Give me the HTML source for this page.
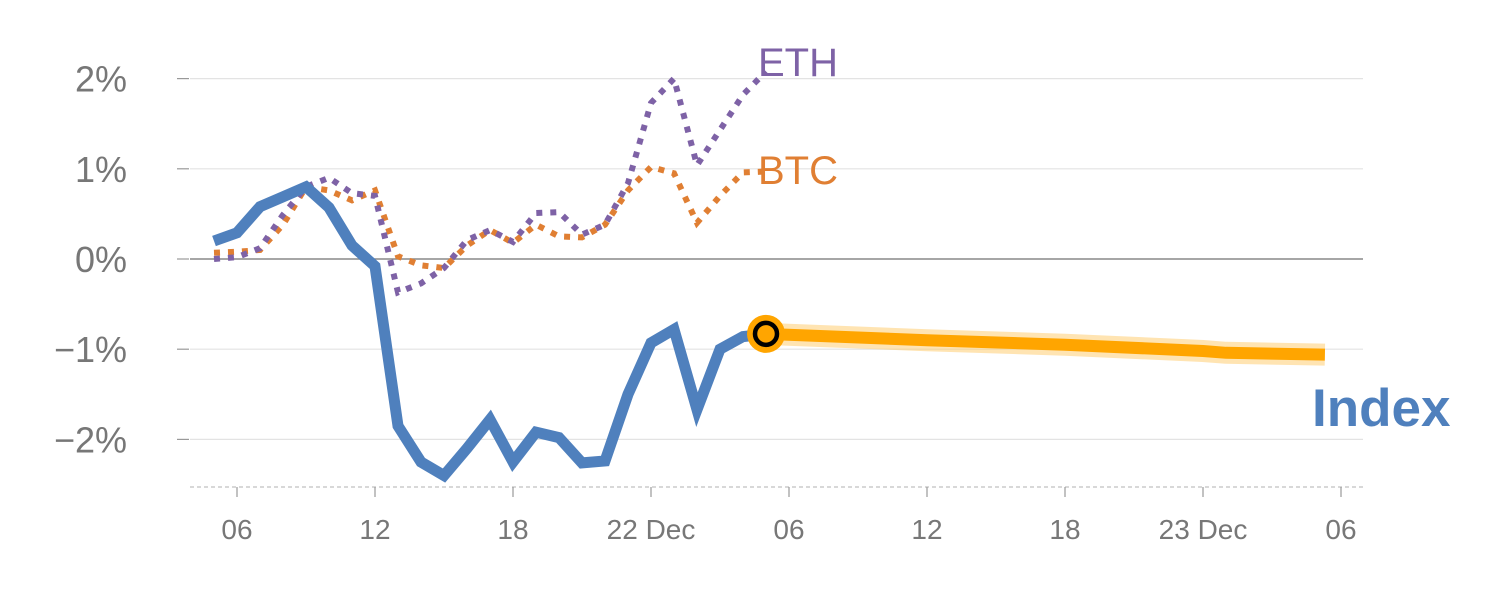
<!DOCTYPE html>
<html><head><meta charset="utf-8"><style>
body{margin:0;background:#fff;}
svg{display:block;font-family:"Liberation Sans",sans-serif;}
</style></head><body>
<svg id="chart" width="1500" height="600"></svg>
<script>
const hours = [-1,0,1,2,3,4,5,6,7,8,9,10,11,12,13,14,15,16,17,18,19,20,21,22,23];
const indexVals = [0.2,0.29,0.58,0.69,0.8,0.57,0.15,-0.08,-1.85,-2.25,-2.4,-2.1,-1.78,-2.25,-1.92,-1.98,-2.26,-2.24,-1.5,-0.93,-0.78,-1.67,-1.0,-0.86,-0.83];
const ethVals = [0.0,0.02,0.12,0.49,0.8,0.9,0.73,0.7,-0.37,-0.27,-0.1,0.21,0.32,0.19,0.51,0.52,0.27,0.38,0.84,1.73,2.0,1.04,1.43,1.82,2.08];
const btcVals = [0.07,0.08,0.1,0.38,0.8,0.76,0.65,0.76,0.03,-0.07,-0.1,0.15,0.32,0.18,0.38,0.25,0.24,0.38,0.76,1.02,0.95,0.4,0.7,0.96,0.97];
const fcHours = [23,30,36,42,43,47.3];
const fcVals = [-0.83,-0.9,-0.95,-1.02,-1.04,-1.06];
const yTicks = [2,1,0,-1,-2];
const yTickLabels = ["2%","1%","0%","−1%","−2%"];
const xTicks = [0,6,12,18,24,30,36,42,48];
const xTickLabels = ["06","12","18","22 Dec","06","12","18","23 Dec","06"];

const svg = document.getElementById('chart');
const NS = 'http://www.w3.org/2000/svg';
const X = h => 237 + 23 * h;
const Y = v => 259 - 90.2 * v;
function mk(tag, attrs){const e=document.createElementNS(NS,tag);for(const k in attrs)e.setAttribute(k,attrs[k]);svg.appendChild(e);return e;}

yTicks.forEach((t,i)=>{
  const g = mk('line',{x1:190,x2:1363,y1:Y(t),y2:Y(t),stroke:t===0?'#888':'#e3e3e3','stroke-width':t===0?1.5:1.2});
  
  
  const tk = mk('line',{x1:177,x2:189,y1:Y(t),y2:Y(t),stroke:'#999','stroke-width':1.2});
  
  
  const tx = mk('text',{x:127,y:Y(t)+13,'text-anchor':'end','font-size':36,fill:'#777'});
  tx.textContent = yTickLabels[i];
  
  
});
const ax = mk('line',{x1:190,x2:1365,y1:487,y2:487,stroke:'#ccc','stroke-width':1.5,'stroke-dasharray':'4 3'});


xTicks.forEach((h,i)=>{
  const tk = mk('line',{x1:X(h),x2:X(h),y1:487,y2:497,stroke:'#999','stroke-width':1.2});
  
  
  const tx = mk('text',{x:X(h),y:539,'text-anchor':'middle','font-size':28,fill:'#777'});
  tx.textContent = xTickLabels[i];
  
  
});
const pts = (hs,vs)=>hs.map((h,i)=>X(h).toFixed(1)+','+Y(vs[i]).toFixed(1)).join(' ');

const btc = mk('polyline',{points:pts(hours,btcVals),fill:'none',stroke:'#e07f33','stroke-width':6,'stroke-dasharray':'6 8'});


const eth = mk('polyline',{points:pts(hours,ethVals),fill:'none',stroke:'#7e62a6','stroke-width':6,'stroke-dasharray':'6 8'});


const idx = mk('polyline',{points:pts(hours,indexVals),fill:'none',stroke:'#4f80bd','stroke-width':11,'stroke-linejoin':'miter'});


const band = mk('polyline',{points:pts(fcHours,fcVals),fill:'none',stroke:'#ffc966','stroke-opacity':0.5,'stroke-width':22});


const fc = mk('polyline',{points:pts(fcHours,fcVals),fill:'none',stroke:'#ffa500','stroke-width':12});


const m1 = mk('circle',{cx:X(fcHours[0]),cy:Y(fcVals[0]),r:19,fill:'#ffa500'});


const m2 = mk('circle',{cx:X(fcHours[0]),cy:Y(fcVals[0]),r:11,fill:'#ffa500',stroke:'#000','stroke-width':4.5});



const le = mk('text',{x:758,y:76,'font-size':40,fill:'#7e62a6'});le.textContent='ETH';


const lb = mk('text',{x:758,y:184,'font-size':40,fill:'#e07f33'});lb.textContent='BTC';


const li = mk('text',{x:1312,y:426,'font-size':53,'font-weight':'bold',fill:'#4f80bd'});li.textContent='Index';


</script>
</body></html>
